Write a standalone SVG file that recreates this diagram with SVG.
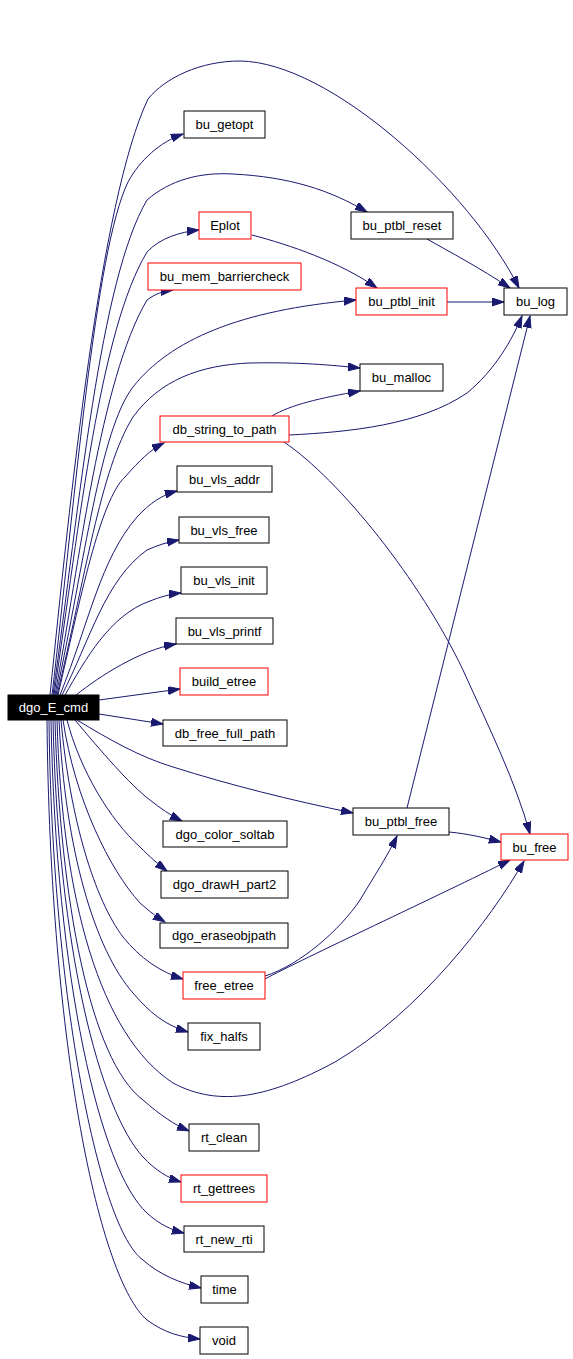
<svg xmlns="http://www.w3.org/2000/svg" width="573" height="1359" viewBox="0 0 573 1359">
<style>
.n rect{fill:#fff;stroke:#000;stroke-width:1}
.n.r rect{stroke:#ff0000}
.n text{font-family:"Liberation Sans",Arial,sans-serif;font-size:13px;text-anchor:middle;fill:#000}
.n.root rect{fill:#000;stroke:#000}
.n.root text{fill:#fff}
#edges path{fill:none;stroke:#191970;stroke-width:1;marker-end:url(#ah)}
</style>
<defs>
<marker id="ah" markerUnits="userSpaceOnUse" markerWidth="13" markerHeight="9" refX="12" refY="4" orient="auto">
<path d="M0,0 L12,4 L0,8 z" fill="#191970" stroke="#191970"/>
</marker>
</defs>
<rect width="573" height="1359" fill="#fff"/>
<g id="edges">
<path d="M50,695 C70,500 100,200 148,99 C165,78 200,61 240,61 C330,62 470,190 519,288"/>
<path d="M52,695 C75,500 95,250 128,182 C140,160 160,142 183,134"/>
<path d="M53,695 C80,500 100,280 147,200 C170,180 200,172 233,174 C290,177 330,190 367,212"/>
<path d="M54,695 C80,520 100,330 147,252 C160,238 180,232 199,230"/>
<path d="M55,695 C80,560 100,380 147,300 C155,294 163,291 173,290"/>
<path d="M56,695 C85,560 100,430 133,387 C170,340 240,310 356,300"/>
<path d="M57,695 C85,580 100,470 133,417 C160,380 200,365 250,363 C300,362 330,365 360,368"/>
<path d="M58,695 C80,600 100,500 125,477 C140,460 150,450 164,443"/>
<path d="M60,695 C90,620 100,560 137,517 C150,503 162,495 177,491"/>
<path d="M62,695 C90,640 105,580 147,550 C158,545 168,542 179,540"/>
<path d="M65,695 C85,660 110,615 150,601 C160,597 170,594 181,593"/>
<path d="M76,695 C100,676 140,650 176,644"/>
<path d="M99,700 L180,689"/>
<path d="M99,714 L163,724"/>
<path d="M77,720 C110,740 140,757 173,767 C230,785 290,800 353,813"/>
<path d="M75,720 C100,750 130,785 150,800 C160,808 170,815 182,821"/>
<path d="M67,720 C80,770 110,820 140,847 C150,857 158,864 167,871"/>
<path d="M63,720 C75,800 110,870 140,903 C150,912 157,917 165,922"/>
<path d="M61,720 C70,820 95,900 123,937 C140,958 160,972 183,979"/>
<path d="M59,720 C65,850 95,950 133,993 C150,1013 165,1025 188,1032"/>
<path d="M57,720 C62,900 100,1035 173,1083 C220,1108 270,1097 335,1062 C420,1012 490,920 524,861"/>
<path d="M55,720 C60,900 90,1060 143,1100 C160,1115 175,1125 189,1131"/>
<path d="M53,720 C58,950 100,1110 143,1157 C155,1170 168,1178 181,1182"/>
<path d="M51,720 C56,980 100,1170 147,1213 C160,1225 172,1230 184,1233"/>
<path d="M49,720 C52,1000 100,1230 143,1260 C160,1275 180,1283 201,1288"/>
<path d="M47,720 C50,1050 100,1280 147,1320 C165,1333 180,1337 200,1339"/>
<path d="M252,235 C290,245 340,262 377,288"/>
<path d="M427,239 C450,252 480,268 510,288"/>
<path d="M447,302 L504,302"/>
<path d="M272,416 C290,405 320,398 360,391"/>
<path d="M289,435 C350,432 420,425 467,393 C495,370 512,340 522,316"/>
<path d="M284,442 C340,480 420,580 463,670 C490,730 515,780 530,834"/>
<path d="M407,808 L530,316"/>
<path d="M449,832 C470,834 485,838 501,842"/>
<path d="M265,976 C300,965 340,930 360,900 C375,875 388,855 397,836"/>
<path d="M265,979 C300,960 440,895 510,860"/>
</g>
<g id="dgo_E_cmd" class="n root"><rect x="8" y="695" width="91" height="25"/><text x="53.5" y="712">dgo_E_cmd</text></g>
<g id="bu_getopt" class="n"><rect x="184" y="111" width="81" height="27"/><text x="224.5" y="129">bu_getopt</text></g>
<g id="Eplot" class="n r"><rect x="199" y="212" width="52" height="27"/><text x="225" y="230">Eplot</text></g>
<g id="bu_mem_barriercheck" class="n r"><rect x="148" y="263" width="153" height="27"/><text x="224.5" y="281">bu_mem_barriercheck</text></g>
<g id="db_string_to_path" class="n r"><rect x="160" y="416" width="129" height="26"/><text x="224.5" y="433.5">db_string_to_path</text></g>
<g id="bu_vls_addr" class="n"><rect x="177" y="466" width="95" height="26"/><text x="224.5" y="483.5">bu_vls_addr</text></g>
<g id="bu_vls_free" class="n"><rect x="179" y="517" width="90" height="26"/><text x="224" y="534.5">bu_vls_free</text></g>
<g id="bu_vls_init" class="n"><rect x="181" y="567" width="86" height="27"/><text x="224" y="585">bu_vls_init</text></g>
<g id="bu_vls_printf" class="n"><rect x="176" y="618" width="97" height="26"/><text x="224.5" y="635.5">bu_vls_printf</text></g>
<g id="build_etree" class="n r"><rect x="180" y="668" width="88" height="27"/><text x="224" y="686">build_etree</text></g>
<g id="db_free_full_path" class="n"><rect x="163" y="720" width="124" height="26"/><text x="225" y="737.5">db_free_full_path</text></g>
<g id="dgo_color_soltab" class="n"><rect x="163" y="821" width="124" height="26"/><text x="225" y="838.5">dgo_color_soltab</text></g>
<g id="dgo_drawH_part2" class="n"><rect x="161" y="871" width="127" height="27"/><text x="224.5" y="889">dgo_drawH_part2</text></g>
<g id="dgo_eraseobjpath" class="n"><rect x="160" y="923" width="128" height="25"/><text x="224" y="940">dgo_eraseobjpath</text></g>
<g id="free_etree" class="n r"><rect x="183" y="972" width="82" height="27"/><text x="224" y="990">free_etree</text></g>
<g id="fix_halfs" class="n"><rect x="188" y="1023" width="72" height="27"/><text x="224" y="1041">fix_halfs</text></g>
<g id="rt_clean" class="n"><rect x="189" y="1124" width="70" height="27"/><text x="224" y="1142">rt_clean</text></g>
<g id="rt_gettrees" class="n r"><rect x="181" y="1175" width="86" height="27"/><text x="224" y="1193">rt_gettrees</text></g>
<g id="rt_new_rti" class="n"><rect x="184" y="1226" width="80" height="26"/><text x="224" y="1243.5">rt_new_rti</text></g>
<g id="time" class="n"><rect x="201" y="1276" width="47" height="27"/><text x="224.5" y="1294">time</text></g>
<g id="void" class="n"><rect x="200" y="1327" width="48" height="27"/><text x="224" y="1345">void</text></g>
<g id="bu_ptbl_reset" class="n"><rect x="351" y="212" width="102" height="27"/><text x="402" y="230">bu_ptbl_reset</text></g>
<g id="bu_ptbl_init" class="n r"><rect x="356" y="288" width="91" height="27"/><text x="401.5" y="306">bu_ptbl_init</text></g>
<g id="bu_malloc" class="n"><rect x="360" y="364" width="83" height="27"/><text x="401.5" y="382">bu_malloc</text></g>
<g id="bu_ptbl_free" class="n"><rect x="353" y="808" width="96" height="27"/><text x="401" y="826">bu_ptbl_free</text></g>
<g id="bu_log" class="n"><rect x="504" y="288" width="63" height="27"/><text x="535.5" y="306">bu_log</text></g>
<g id="bu_free" class="n r"><rect x="501" y="834" width="67" height="26"/><text x="534.5" y="851.5">bu_free</text></g>
</svg>
